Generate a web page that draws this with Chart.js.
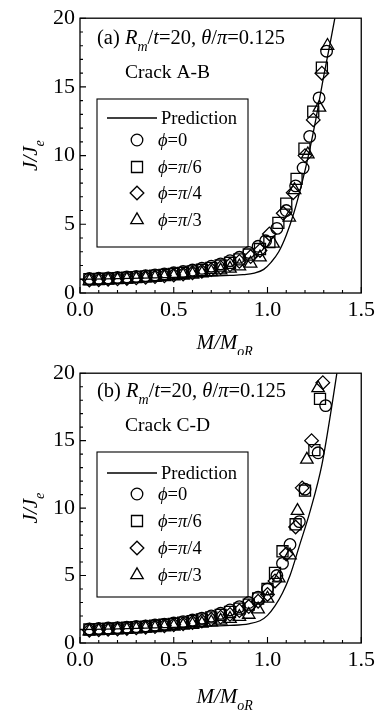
<!DOCTYPE html>
<html>
<head>
<meta charset="utf-8">
<script src="https://cdn.jsdelivr.net/npm/chart.js@4.4.1/dist/chart.umd.min.js"></script>
<style>
  body { margin: 0; background: #fff; }
  .panel { width: 379px; height: 355px; }
  canvas { display: block; }
</style>
</head>
<body>
<div class="panel"><canvas id="chartA" width="379" height="355"></canvas></div>
<div class="panel"><canvas id="chartB" width="379" height="355"></canvas></div>
<script>
// axis ticks
const xTickValues = [0, 0.5, 1.0, 1.5];
const yTickValues = [0, 5, 10, 15, 20];

// load steps shared by the low part of every series
const lowX = [0.05, 0.10, 0.15, 0.20, 0.25, 0.30, 0.35, 0.40, 0.45, 0.50, 0.55, 0.60, 0.65, 0.70, 0.75, 0.80, 0.85];

// (a) crack A-B
const predXA = [0, 0.2, 0.4, 0.6, 0.8, 0.87, 0.93, 0.98, 1.02, 1.06, 1.10, 1.14, 1.18, 1.22, 1.26, 1.30, 1.34, 1.37];
const predYA = [1.0, 1.04, 1.10, 1.18, 1.28, 1.33, 1.45, 1.72, 2.25, 3.00, 4.20, 5.80, 7.80, 10.1, 12.8, 15.8, 18.6, 20.8];

const phi0XA = lowX.concat([0.90, 0.95, 0.99, 1.05, 1.10, 1.15, 1.19, 1.225, 1.275, 1.315]);
const phi0YA = [1.05, 1.07, 1.10, 1.13, 1.17, 1.21, 1.26, 1.32, 1.39, 1.47, 1.56, 1.67, 1.80, 1.95, 2.12, 2.35, 2.60,
                2.95, 3.40, 3.80, 4.70, 6.00, 7.80, 9.10, 11.4, 14.2, 17.6];
const phi6XA = lowX.concat([0.90, 0.96, 1.01, 1.058, 1.10, 1.155, 1.197, 1.244, 1.29]);
const phi6YA = [1.00, 1.02, 1.05, 1.08, 1.12, 1.16, 1.21, 1.26, 1.32, 1.39, 1.47, 1.57, 1.69, 1.83, 2.00, 2.20, 2.45,
                2.80, 3.20, 3.70, 5.10, 6.50, 8.30, 10.5, 13.2, 16.4];
const phi4XA = lowX.concat([0.91, 0.96, 1.01, 1.084, 1.137, 1.20, 1.244, 1.29]);
const phi4YA = [0.95, 0.97, 1.00, 1.03, 1.06, 1.10, 1.14, 1.19, 1.25, 1.31, 1.38, 1.47, 1.58, 1.71, 1.86, 2.05, 2.30,
                2.65, 3.10, 4.30, 5.80, 7.30, 10.0, 12.6, 16.0];
const phi3XA = lowX.concat([0.91, 0.96, 1.03, 1.116, 1.144, 1.215, 1.277, 1.32]);
const phi3YA = [0.88, 0.90, 0.93, 0.96, 0.99, 1.03, 1.07, 1.11, 1.16, 1.22, 1.28, 1.35, 1.43, 1.53, 1.65, 1.78, 1.95,
                2.15, 2.60, 3.60, 5.50, 7.50, 10.1, 13.5, 18.0];

// (b) crack C-D
const predXB = [0, 0.2, 0.4, 0.6, 0.8, 0.9, 0.96, 1.00, 1.04, 1.08, 1.12, 1.17, 1.23, 1.29, 1.34, 1.37];
const predYB = [1.0, 1.05, 1.12, 1.20, 1.30, 1.42, 1.65, 2.05, 2.75, 3.70, 5.00, 7.20, 9.90, 13.2, 17.3, 20.0];

const phi0XB = lowX.concat([0.90, 0.95, 1.00, 1.05, 1.08, 1.12, 1.17, 1.20, 1.27, 1.31]);
const phi0YB = [1.05, 1.08, 1.11, 1.14, 1.18, 1.22, 1.27, 1.33, 1.40, 1.48, 1.58, 1.70, 1.84, 2.00, 2.20, 2.45, 2.70,
                3.00, 3.40, 4.00, 5.00, 5.90, 7.30, 9.00, 11.4, 14.1, 17.6];
const phi6XB = lowX.concat([0.90, 0.95, 1.00, 1.04, 1.08, 1.15, 1.20, 1.25, 1.28]);
const phi6YB = [1.00, 1.03, 1.06, 1.09, 1.13, 1.17, 1.22, 1.28, 1.35, 1.42, 1.51, 1.62, 1.75, 1.90, 2.08, 2.30, 2.55,
                2.85, 3.30, 4.00, 5.20, 6.80, 8.80, 11.3, 14.3, 18.1];
const phi4XB = lowX.concat([0.90, 0.95, 1.00, 1.04, 1.10, 1.15, 1.185, 1.235, 1.295]);
const phi4YB = [0.95, 0.98, 1.01, 1.04, 1.08, 1.12, 1.17, 1.22, 1.28, 1.35, 1.43, 1.52, 1.63, 1.76, 1.92, 2.12, 2.40,
                2.70, 3.10, 3.60, 4.60, 6.60, 8.60, 11.5, 15.0, 19.3];
const phi3XB = lowX.concat([0.90, 0.95, 1.00, 1.06, 1.12, 1.16, 1.21, 1.27]);
const phi3YB = [0.88, 0.91, 0.94, 0.97, 1.00, 1.04, 1.08, 1.12, 1.17, 1.23, 1.29, 1.36, 1.44, 1.54, 1.66, 1.80, 1.95,
                2.10, 2.50, 3.30, 4.80, 6.50, 9.80, 13.6, 18.9];

const FONT = '"Liberation Serif", "Times New Roman", serif';
const pts = (xs, ys) => xs.map((x, i) => ({ x: x, y: ys[i] }));

// draws a run of [text, style] pieces; style n = upright, i = italic, s = italic subscript
function richText(ctx, parts, x, y, size, align) {
  const fontFor = st => (st === 'n' ? '' : 'italic ') + (st === 's' ? Math.round(size * 0.68) : size) + 'px ' + FONT;
  let total = 0;
  const widths = parts.map(([t, st]) => {
    ctx.font = fontFor(st);
    const w = ctx.measureText(t).width;
    total += w;
    return w;
  });
  let cx = align === 'center' ? x - total / 2 : x;
  ctx.textBaseline = 'alphabetic';
  ctx.textAlign = 'left';
  parts.forEach(([t, st], i) => {
    ctx.font = fontFor(st);
    ctx.fillText(t, cx, st === 's' ? y + size * 0.32 : y);
    cx += widths[i];
  });
}

const panelDecor = {
  id: 'panelDecor',
  afterDraw(chart, args, opts) {
    const ctx = chart.ctx;
    const area = chart.chartArea;
    const xs = chart.scales.x, ys = chart.scales.y;
    ctx.save();
    ctx.strokeStyle = '#000';
    ctx.fillStyle = '#000';

    // frame
    ctx.lineWidth = 1.3;
    ctx.strokeRect(area.left, area.top, area.right - area.left, area.bottom - area.top);

    // inward ticks, minor every 0.1 on x and every 1 on y
    ctx.lineWidth = 1.1;
    ctx.beginPath();
    for (let i = 0; i <= 15; i++) {
      const px = xs.getPixelForValue(i / 10);
      const len = i % 5 === 0 ? 6 : 3;
      ctx.moveTo(px, area.bottom);
      ctx.lineTo(px, area.bottom - len);
    }
    for (let j = 0; j <= 20; j++) {
      const py = ys.getPixelForValue(j);
      const len = j % 5 === 0 ? 6 : 3;
      ctx.moveTo(area.left, py);
      ctx.lineTo(area.left + len, py);
    }
    ctx.stroke();

    // axis titles
    const midX = (area.left + area.right) / 2;
    richText(ctx, [['M/M', 'i'], ['oR', 's']], midX + 4, opts.xTitleY, 21, 'center');
    ctx.save();
    ctx.translate(37, (area.top + area.bottom) / 2);
    ctx.rotate(-Math.PI / 2);
    richText(ctx, [['J/J', 'i'], ['e', 's']], 0, 0, 21, 'center');
    ctx.restore();

    // case label and crack name
    richText(ctx, [['(' + opts.tag + ') ', 'n'], ['R', 'i'], ['m', 's'], ['/', 'n'], ['t', 'i'],
                   ['=20, ', 'n'], ['θ', 'i'], ['/', 'n'], ['π', 'i'], ['=0.125', 'n']], 97, opts.tagY, 20.5, 'left');
    richText(ctx, [[opts.crack, 'n']], 125, opts.crackY, 19.5, 'left');

    // legend box
    const lg = opts.legend;
    ctx.lineWidth = 1.1;
    ctx.strokeRect(97, lg.top, 151, lg.height);
    const ds = chart.data.datasets;
    ctx.lineWidth = 1.3;
    ctx.beginPath();
    ctx.moveTo(107, lg.rows[0]);
    ctx.lineTo(157, lg.rows[0]);
    ctx.stroke();
    richText(ctx, [['Prediction', 'n']], 161, lg.rows[0] + 6, 18.5, 'left');
    const labels = [
      [['ϕ', 'i'], ['=0', 'n']],
      [['ϕ', 'i'], ['=', 'n'], ['π', 'i'], ['/6', 'n']],
      [['ϕ', 'i'], ['=', 'n'], ['π', 'i'], ['/4', 'n']],
      [['ϕ', 'i'], ['=', 'n'], ['π', 'i'], ['/3', 'n']]
    ];
    for (let k = 0; k < 4; k++) {
      const d = ds[k + 1];
      ctx.save();
      ctx.fillStyle = 'rgba(0,0,0,0)';
      ctx.lineWidth = d.borderWidth;
      Chart.helpers.drawPoint(ctx, { pointStyle: d.pointStyle, radius: d.pointRadius, rotation: 0, borderWidth: d.borderWidth },
                              137, lg.rows[k + 1]);
      ctx.restore();
      richText(ctx, labels[k], 158, lg.rows[k + 1] + 6, 18.5, 'left');
    }
    ctx.restore();
  }
};

function makeChart(id, series, cfg) {
  const marker = (data, style, r) => ({
    data: data, pointStyle: style, pointRadius: r, borderWidth: 1.3,
    borderColor: '#000', backgroundColor: 'rgba(0,0,0,0)', showLine: false
  });
  return new Chart(document.getElementById(id), {
    type: 'scatter',
    data: {
      datasets: [
        { data: series.pred, showLine: true, pointRadius: 0, borderColor: '#000', borderWidth: 1.3,
          cubicInterpolationMode: 'monotone', fill: false },
        marker(series.phi0, 'circle', 5.8),
        marker(series.phi6, 'rect', 7.8),
        marker(series.phi4, 'rectRot', 6.8),
        marker(series.phi3, 'triangle', 7.2)
      ]
    },
    options: {
      responsive: false,
      animation: false,
      layout: { padding: { left: 0, right: 17, top: 15, bottom: 0 } },
      plugins: { legend: { display: false }, tooltip: { enabled: false }, panelDecor: cfg },
      scales: {
        x: {
          type: 'linear', min: 0, max: 1.5,
          afterFit: s => { s.height = cfg.xAxisHeight; },
          afterBuildTicks: s => { s.ticks = xTickValues.map(v => ({ value: v })); },
          grid: { display: false, drawTicks: false },
          border: { display: false },
          ticks: { callback: v => v.toFixed(1), color: '#000', padding: 4, maxRotation: 0,
                   font: { family: FONT, size: 22 } }
        },
        y: {
          type: 'linear', min: 0, max: 20,
          afterFit: s => { s.width = 80; },
          afterBuildTicks: s => { s.ticks = yTickValues.map(v => ({ value: v })); },
          grid: { display: false, drawTicks: false },
          border: { display: false },
          ticks: { callback: v => String(v), color: '#000', padding: 5,
                   font: { family: FONT, size: 22 } }
        }
      }
    },
    plugins: [panelDecor]
  });
}

makeChart('chartA', {
  pred: pts(predXA, predYA),
  phi0: pts(phi0XA, phi0YA), phi6: pts(phi6XA, phi6YA),
  phi4: pts(phi4XA, phi4YA), phi3: pts(phi3XA, phi3YA)
}, {
  tag: 'a', crack: 'Crack A-B', tagY: 44, crackY: 78, xTitleY: 349, xAxisHeight: 62,
  legend: { top: 99, height: 148, rows: [118, 140, 167, 193, 220] }
});

makeChart('chartB', {
  pred: pts(predXB, predYB),
  phi0: pts(phi0XB, phi0YB), phi6: pts(phi6XB, phi6YB),
  phi4: pts(phi4XB, phi4YB), phi3: pts(phi3XB, phi3YB)
}, {
  tag: 'b', crack: 'Crack C-D', tagY: 42, crackY: 76, xTitleY: 348, xAxisHeight: 67,
  legend: { top: 97, height: 145, rows: [118, 139, 166, 193, 220] }
});
</script>
</body>
</html>
